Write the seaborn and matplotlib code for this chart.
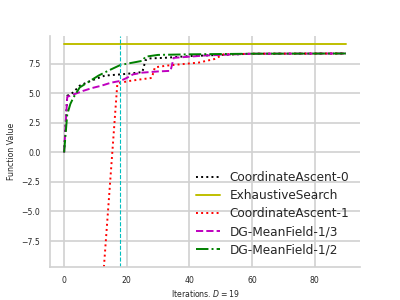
import matplotlib
matplotlib.use("Agg")
import matplotlib.pyplot as plt
import seaborn as sns

sns.set_theme(style="whitegrid", color_codes=False)
plt.rcParams["font.family"] = ["DejaVu Sans"]

# valores (iteracao, valor da funcao)
ca0_x = [0, 1, 2, 3, 5, 8, 13, 18, 22, 25, 26, 27, 32, 40, 50, 60, 90]
ca0_y = [0, 4.8, 4.9, 5.1, 5.65, 6.0, 6.5, 6.6, 6.7, 6.8, 7.8, 7.95, 8.0, 8.15, 8.25, 8.35, 8.37]

exh_x = [0, 90]
exh_y = [9.17, 9.17]

ca1_x = [12, 17, 18, 21, 25, 28, 29, 33, 37, 43, 48, 51, 60, 90]
ca1_y = [-12.3, 5.8, 5.9, 6.05, 6.2, 6.3, 7.2, 7.35, 7.45, 7.6, 7.9, 8.3, 8.35, 8.37]

mf3_x = [0, 1, 2, 4, 6, 9, 12, 15, 18, 20, 22, 25, 30, 34, 35, 40, 45, 60, 90]
mf3_y = [0, 4.7, 4.8, 5.0, 5.2, 5.45, 5.65, 5.9, 6.05, 6.3, 6.6, 6.75, 6.85, 6.9, 8.0, 8.1, 8.2, 8.35, 8.37]

mf2_x = [0, 1, 2, 3, 5, 8, 11, 14, 18, 22, 25, 26, 30, 40, 60, 90]
mf2_y = [0, 3.2, 4.1, 4.65, 5.5, 6.0, 6.5, 6.9, 7.4, 7.6, 7.75, 8.1, 8.25, 8.3, 8.35, 8.37]

D = 19
linha_vertical = 18

series = [
    (ca0_x, ca0_y, "CoordinateAscent-0", "black", ":"),
    (exh_x, exh_y, "ExhaustiveSearch", (0.75, 0.75, 0.0), "-"),
    (ca1_x, ca1_y, "CoordinateAscent-1", "red", ":"),
    (mf3_x, mf3_y, "DG-MeanField-1/3", (0.75, 0.0, 0.75), "--"),
    (mf2_x, mf2_y, "DG-MeanField-1/2", (0.0, 0.5, 0.0), "-."),
]

fig, ax = plt.subplots(figsize=(4, 3), dpi=100)
for xs, ys, nome, cor, estilo in series:
    sns.lineplot(x=xs, y=ys, ax=ax, label=nome, color=cor, linestyle=estilo,
                 linewidth=1.4, sort=False, estimator=None)

ax.axvline(linha_vertical, color=(0.0, 0.75, 0.75), linestyle="--", linewidth=0.8)
ax.set_ylim(-9.7, 9.85)
ax.set_xlabel("Iterations. $D = %d$" % D, fontsize=5.6, labelpad=2)
ax.set_ylabel("Function Value", fontsize=5.6)
ax.tick_params(axis="both", labelsize=5.6, length=0)
ax.tick_params(axis="y", pad=7)
ax.tick_params(axis="x", pad=6.5)
ax.grid(linewidth=1.2, color="0.82")
for s in ["top", "right"]:
    ax.spines[s].set_visible(False)
for s in ["left", "bottom"]:
    ax.spines[s].set_linewidth(1.2)
    ax.spines[s].set_color("0.82")
ax.legend(loc="lower right", frameon=False, fontsize=8.7, labelspacing=0.42)

plt.savefig("out.png")
